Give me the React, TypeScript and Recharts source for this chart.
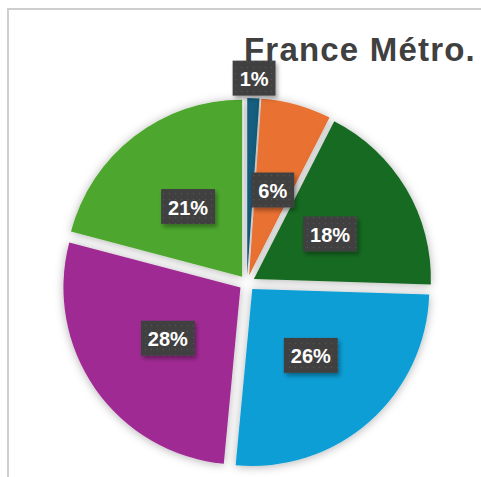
import { PieChart, Pie, Cell } from 'recharts';

const title = 'France Métro.';
const categories = ['Catégorie 1', 'Catégorie 2', 'Catégorie 3', 'Catégorie 4', 'Catégorie 5', 'Catégorie 6'];
const values = [1.1, 6.4, 18.0, 26.0, 27.6, 20.9];
const colors = ['#156082', '#E97132', '#196B24', '#0F9ED5', '#A02B93', '#4EA72E'];

const data = categories.map((name, i) => ({ name, value: values[i] }));
const total = values.reduce((a, b) => a + b, 0);

const CX = 247;
const CY = 283;
const R = 177;
const EXPLODE = 8;
const RAD = Math.PI / 180;

// middle angle of each slice, recharts convention (degrees, counter-clockwise from 3 o'clock)
const midAngles = values.map((v, i) => {
  const before = values.slice(0, i).reduce((a, b) => a + b, 0);
  return 90 - (360 * (before + v / 2)) / total;
});

const renderLabel = (props: any) => {
  const { cx, cy, midAngle, outerRadius, percent } = props;
  const cos = Math.cos(midAngle * RAD);
  const sin = Math.sin(midAngle * RAD);
  // small slices get their label outside (best fit), the rest sit half way
  const r = percent < 0.03 ? outerRadius + 20 + EXPLODE : outerRadius * 0.5 + EXPLODE;
  const x = cx + r * cos;
  const y = cy - r * sin;
  const text = `${Math.round(percent * 100)}%`;
  const digits = text.length - 1;
  const w = digits * 11.1 + 17.8 + 14;
  const h = 35;
  return (
    <g>
      <rect x={x - w / 2} y={y - h / 2} width={w} height={h} fill="url(#dots)" filter="url(#boxShadow)" />
      <text x={x} y={y + 1} fill="#ffffff" textAnchor="middle" dominantBaseline="central"
        fontFamily="'Liberation Sans', Arial, sans-serif" fontWeight="bold" fontSize={20}>
        {text}
      </text>
    </g>
  );
};

export default function App() {
  return (
    <div style={{ position: 'absolute', left: 0, top: 0, width: 481, height: 477, overflow: 'hidden', background: '#fff' }}>
      <div style={{ position: 'absolute', left: 7, top: 8, width: 520, height: 520, borderLeft: '2px solid #cfcfcf', borderTop: '2px solid #cfcfcf' }} />
      <div style={{ position: 'absolute', left: 0, top: 0 }}>
        <PieChart width={481} height={477} margin={{ top: 0, right: 0, bottom: 0, left: 0 }}>
          <defs>
            <filter id="sliceShadow" x="-20%" y="-20%" width="140%" height="140%">
              <feDropShadow dx="0" dy="1" stdDeviation="5" floodColor="#000" floodOpacity="0.3" />
            </filter>
            <filter id="boxShadow" x="-30%" y="-30%" width="160%" height="160%">
              <feDropShadow dx="2" dy="3" stdDeviation="2" floodColor="#000" floodOpacity="0.35" />
            </filter>
            <pattern id="dots" width="6" height="6" patternUnits="userSpaceOnUse">
              <rect width="6" height="6" fill="#404040" />
              <circle cx="1.5" cy="1.5" r="0.7" fill="#555555" />
            </pattern>
          </defs>
          {data.map((_, i) => (
            <Pie
              key={`slice-${i}`}
              data={data}
              dataKey="value"
              nameKey="name"
              cx={CX + EXPLODE * Math.cos(midAngles[i] * RAD)}
              cy={CY - EXPLODE * Math.sin(midAngles[i] * RAD)}
              outerRadius={R}
              startAngle={90}
              endAngle={-270}
              stroke="none"
              labelLine={false}
              isAnimationActive={false}
            >
              {data.map((__, j) => (
                <Cell key={`c-${j}`} fill={j === i ? colors[j] : 'transparent'} filter={j === i ? 'url(#sliceShadow)' : undefined} />
              ))}
            </Pie>
          ))}
          <Pie
            data={data}
            dataKey="value"
            nameKey="name"
            cx={CX}
            cy={CY}
            outerRadius={R}
            startAngle={90}
            endAngle={-270}
            stroke="none"
            fill="transparent"
            label={renderLabel}
            labelLine={false}
            isAnimationActive={false}
          >
            {data.map((__, j) => (
              <Cell key={`l-${j}`} fill="transparent" />
            ))}
          </Pie>
        </PieChart>
      </div>
      <div style={{ position: 'absolute', left: 244, top: 33, fontFamily: "'Liberation Sans', Arial, sans-serif", fontWeight: 'bold', fontSize: 33, lineHeight: '34px', letterSpacing: 1.2, color: '#404040', whiteSpace: 'nowrap' }}>
        {title}
      </div>
    </div>
  );
}
